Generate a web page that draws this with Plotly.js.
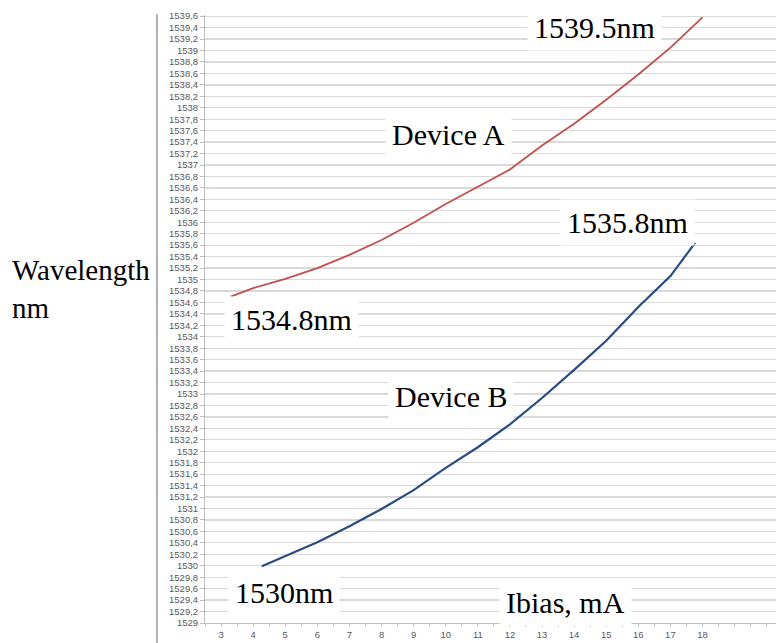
<!DOCTYPE html>
<html>
<head>
<meta charset="utf-8">
<script src="https://cdn.plot.ly/plotly-3.0.1.min.js"></script>
<style>html,body{margin:0;padding:0;background:#fff;}#chart{width:776px;height:643px;}</style>
</head>
<body>
<div id="chart"></div>
<script>
// Device A (red)
const xA = [3.3, 4, 5, 6, 7, 8, 9, 10, 11, 12, 13, 14, 15, 16, 17, 18];
const yA = [1534.70, 1534.85, 1535.01, 1535.20, 1535.43, 1535.69, 1535.99, 1536.32, 1536.62, 1536.92, 1537.34, 1537.72, 1538.14, 1538.58, 1539.05, 1539.58];
// Device B (blue)
const xB = [4.27, 5, 6, 7, 8, 9, 10, 11, 12, 13, 14, 15, 16, 17, 17.77];
const yB = [1529.99, 1530.17, 1530.41, 1530.69, 1530.99, 1531.32, 1531.71, 1532.07, 1532.47, 1532.93, 1533.42, 1533.93, 1534.52, 1535.06, 1535.64];
// x tick labels
const xTickVals = [3, 4, 5, 6, 7, 8, 9, 10, 11, 12, 13, 14, 15, 16, 17, 18];
const xTickText = ["3","4","5","6","7","8","9","10","11","12","13","14","15","16","17","18"];
// y tick labels
const yTickVals = [1529, 1529.2, 1529.4, 1529.6, 1529.8, 1530, 1530.2, 1530.4, 1530.6, 1530.8,
  1531, 1531.2, 1531.4, 1531.6, 1531.8, 1532, 1532.2, 1532.4, 1532.6, 1532.8,
  1533, 1533.2, 1533.4, 1533.6, 1533.8, 1534, 1534.2, 1534.4, 1534.6, 1534.8,
  1535, 1535.2, 1535.4, 1535.6, 1535.8, 1536, 1536.2, 1536.4, 1536.6, 1536.8,
  1537, 1537.2, 1537.4, 1537.6, 1537.8, 1538, 1538.2, 1538.4, 1538.6, 1538.8,
  1539, 1539.2, 1539.4, 1539.6];
const yTickText = ["1529", "1529,2", "1529,4", "1529,6", "1529,8", "1530", "1530,2", "1530,4", "1530,6", "1530,8",
  "1531", "1531,2", "1531,4", "1531,6", "1531,8", "1532", "1532,2", "1532,4", "1532,6", "1532,8",
  "1533", "1533,2", "1533,4", "1533,6", "1533,8", "1534", "1534,2", "1534,4", "1534,6", "1534,8",
  "1535", "1535,2", "1535,4", "1535,6", "1535,8", "1536", "1536,2", "1536,4", "1536,6", "1536,8",
  "1537", "1537,2", "1537,4", "1537,6", "1537,8", "1538", "1538,2", "1538,4", "1538,6", "1538,8",
  "1539", "1539,2", "1539,4", "1539,6"];
// text labels
const labelTexts = ["1539.5nm", "Device A", "1535.8nm", "1534.8nm", "Device B", "1530nm", "Ibias, mA"];
const labelX = [14.65, 10.1, 15.65, 5.21, 10.17, 4.96, 13.72];
const labelY = [1539.41, 1537.53, 1536.0, 1534.31, 1532.95, 1529.54, 1529.36];

const serif = "Liberation Serif, Times New Roman, serif";
const annotations = labelTexts.map((t, i) => ({
  text: t, x: labelX[i], y: labelY[i], xref: 'x', yref: 'y',
  showarrow: false, bgcolor: '#ffffff', borderpad: 6,
  font: {family: serif, size: 30, color: '#000000'}
}));
annotations.push({
  text: 'Wavelength<br>nm', xref: 'paper', yref: 'paper',
  x: (10 - 205) / 571, y: (623 - 289) / 608, xanchor: 'left', yanchor: 'middle',
  align: 'left', showarrow: false,
  font: {family: serif, size: 29, color: '#000000'}
});

const traces = [
  {x: xA, y: yA, type: 'scatter', mode: 'lines', name: 'Device A',
   line: {color: '#c0504d', width: 1.8}},
  {x: xB, y: yB, type: 'scatter', mode: 'lines', name: 'Device B',
   line: {color: '#2a4d7f', width: 2.2}}
];

const layout = {
  width: 776, height: 643,
  margin: {l: 205, r: 0, t: 15, b: 20},
  paper_bgcolor: '#ffffff', plot_bgcolor: '#ffffff',
  showlegend: false,
  font: {family: 'Liberation Sans, Arial, sans-serif', size: 9.5, color: '#595959'},
  xaxis: {
    range: [2.5, 20.29],
    tickmode: 'array', tickvals: xTickVals, ticktext: xTickText,
    showgrid: false, zeroline: false,
    showline: true, linecolor: '#bfbfbf', linewidth: 1,
    ticks: 'outside', ticklen: 3, tickcolor: '#bfbfbf',
    minor: {dtick: 0.5, tick0: 2.5, ticks: 'outside', ticklen: 3, tickcolor: '#bfbfbf', showgrid: false},
    tickfont: {size: 9.5, color: '#595959'}
  },
  yaxis: {
    range: [1529, 1539.62],
    tickmode: 'array', tickvals: yTickVals, ticktext: yTickText,
    showgrid: true, gridcolor: '#d9d9d9', gridwidth: 1.3,
    zeroline: false,
    showline: true, linecolor: '#bfbfbf', linewidth: 1,
    ticks: 'outside', ticklen: 4, tickcolor: '#bfbfbf',
    tickfont: {size: 9.5, color: '#595959'}
  },
  annotations: annotations,
  shapes: [{
    type: 'line', xref: 'paper', yref: 'paper',
    x0: (157 - 205) / 571, x1: (157 - 205) / 571,
    y0: (623 - 14) / 608, y1: (623 - 643) / 608,
    line: {color: '#9a9a9a', width: 1.5}
  }]
};

Plotly.newPlot('chart', traces, layout, {displayModeBar: false, staticPlot: true});
</script>
</body>
</html>
